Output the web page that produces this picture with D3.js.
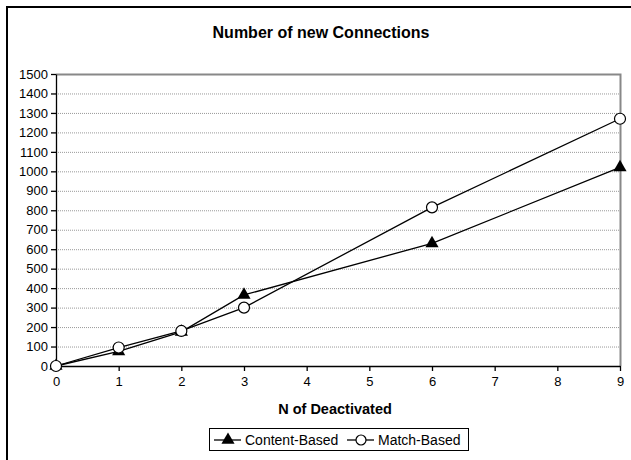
<!DOCTYPE html>
<html><head><meta charset="utf-8">
<script src="https://cdn.jsdelivr.net/npm/d3@7"></script>
<style>body{margin:0;background:#fff}svg{display:block}</style>
</head><body>
<script>
const xValues = [0, 1, 2, 3, 6, 9];
const contentBased = [0, 75, 175, 365, 630, 1020];
const matchBased = [0, 95, 180, 300, 815, 1270];
const yTicks = [0,100,200,300,400,500,600,700,800,900,1000,1100,1200,1300,1400,1500];
const xTicks = [0,1,2,3,4,5,6,7,8,9];
const seriesNames = ["Content-Based", "Match-Based"];

const W = 631, H = 460;
const svg = d3.select("body").append("svg").attr("width", W).attr("height", H);
const font = "Arial, 'Liberation Sans', sans-serif";
svg.append("rect").attr("width", W).attr("height", H).attr("fill", "#fff");
svg.append("rect").attr("x", 7).attr("y", 7).attr("width", 640).attr("height", 470)
  .attr("fill", "none").attr("stroke", "#000").attr("stroke-width", 2);

const L = 56, R = 620, T = 74, B = 366;
const x = d3.scaleLinear().domain([0, 9]).range([L, R]);
const y = d3.scaleLinear().domain([0, 1500]).range([B, T]);

svg.append("text").attr("x", 321).attr("y", 38).attr("text-anchor", "middle")
  .attr("font-family", font).attr("font-weight", "bold").attr("font-size", 16)
  .text("Number of new Connections");

svg.append("g").selectAll("line").data(yTicks.filter(d => d > 0 && d < 1500)).join("line")
  .attr("x1", L).attr("x2", R).attr("y1", d => y(d) + 0.5).attr("y2", d => y(d) + 0.5)
  .attr("stroke", "#999").attr("stroke-width", 1).attr("stroke-dasharray", "1,1");

svg.append("path").attr("d", `M${L},${T + 0.5}H${R + 0.5}V${B}`)
  .attr("fill", "none").attr("stroke", "#888").attr("stroke-width", 2);

const yAxis = d3.axisLeft(y).tickValues(yTicks).tickFormat(d3.format("d")).tickSize(5).tickPadding(3).tickSizeOuter(0);
const gy = svg.append("g").attr("transform", `translate(${L},0)`).call(yAxis);
const xAxis = d3.axisBottom(x).tickValues(xTicks).tickFormat(d3.format("d")).tickSize(5).tickPadding(6).tickSizeOuter(0);
const gx = svg.append("g").attr("transform", `translate(0,${B})`).call(xAxis);
[gy, gx].forEach(g => {
  g.selectAll("text").attr("font-family", font).attr("font-size", 13).attr("fill", "#000");
  g.selectAll("line,path").attr("stroke", "#000").attr("stroke-width", 1.3);
});

svg.append("text").attr("x", 335).attr("y", 414).attr("text-anchor", "middle")
  .attr("font-family", font).attr("font-weight", "bold").attr("font-size", 14.5)
  .text("N of Deactivated");

const line = d3.line().x(d => x(d[0])).y(d => y(d[1]));
const cData = xValues.map((v, i) => [v, contentBased[i]]);
const mData = xValues.map((v, i) => [v, matchBased[i]]);
svg.append("path").attr("d", line(cData)).attr("fill", "none").attr("stroke", "#000").attr("stroke-width", 1.3);
svg.append("path").attr("d", line(mData)).attr("fill", "none").attr("stroke", "#000").attr("stroke-width", 1.3);

const tri = d3.symbol().type(d3.symbolTriangle).size(75);
svg.append("g").selectAll("path").data(cData).join("path")
  .attr("d", tri).attr("transform", d => `translate(${x(d[0])},${y(d[1])})`).attr("fill", "#000");
svg.append("g").selectAll("circle").data(mData).join("circle")
  .attr("cx", d => x(d[0])).attr("cy", d => y(d[1])).attr("r", 5.5)
  .attr("fill", "#fff").attr("stroke", "#000").attr("stroke-width", 1.2);

const lg = svg.append("g");
lg.append("rect").attr("x", 209.5).attr("y", 428.5).attr("width", 259).attr("height", 22)
  .attr("fill", "#fff").attr("stroke", "#000").attr("stroke-width", 1);
lg.append("line").attr("x1", 214).attr("x2", 241).attr("y1", 440).attr("y2", 440).attr("stroke", "#000").attr("stroke-width", 1.3);
lg.append("path").attr("d", tri).attr("transform", "translate(228,440)").attr("fill", "#000");
lg.append("text").attr("x", 245).attr("y", 445).attr("font-family", font).attr("font-size", 14).text(seriesNames[0]);
lg.append("line").attr("x1", 347).attr("x2", 374).attr("y1", 440).attr("y2", 440).attr("stroke", "#000").attr("stroke-width", 1.3);
lg.append("circle").attr("cx", 361).attr("cy", 440).attr("r", 5).attr("fill", "#fff").attr("stroke", "#000").attr("stroke-width", 1.2);
lg.append("text").attr("x", 378).attr("y", 445).attr("font-family", font).attr("font-size", 14).text(seriesNames[1]);
</script>
</body></html>
